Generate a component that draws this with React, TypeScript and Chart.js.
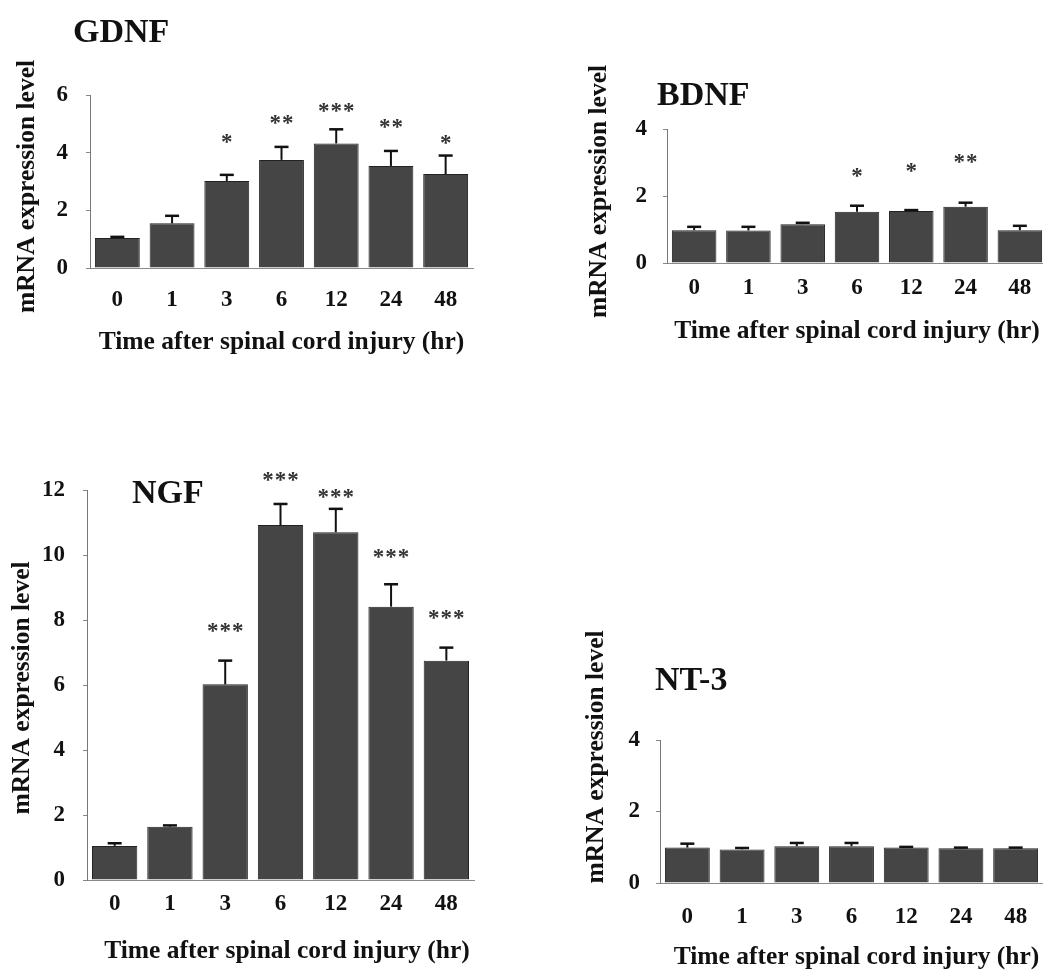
import React, { useEffect, useRef } from "react";
import { Chart, registerables } from "chart.js";

Chart.register(...registerables);

// ---------- data ----------
const hours = ["0", "1", "3", "6", "12", "24", "48"];

const gdnfMean = [1.04, 1.55, 3.02, 3.75, 4.32, 3.54, 3.26];
const gdnfErr = [0.04, 0.26, 0.21, 0.45, 0.49, 0.52, 0.64];
const gdnfStars = ["", "", "*", "**", "***", "**", "*"];
const gdnfStarLevel = [0, 0, 4.5, 5.14, 5.56, 5.02, 4.44];

const bdnfMean = [0.98, 0.97, 1.16, 1.53, 1.55, 1.68, 0.98];
const bdnfErr = [0.1, 0.11, 0.04, 0.18, 0.03, 0.12, 0.13];
const bdnfStars = ["", "", "", "*", "*", "**", ""];
const bdnfStarLevel = [0, 0, 0, 2.69, 2.84, 3.13, 0];

const ngfMean = [1.05, 1.64, 6.02, 10.92, 10.7, 8.41, 6.75];
const ngfErr = [0.08, 0.04, 0.73, 0.65, 0.72, 0.69, 0.4];
const ngfStars = ["", "", "***", "***", "***", "***", "***"];
const ngfStarLevel = [0, 0, 7.78, 12.43, 11.9, 10.06, 8.18];

const nt3Mean = [0.99, 0.94, 1.03, 1.03, 0.99, 0.97, 0.97];
const nt3Err = [0.11, 0.04, 0.09, 0.09, 0.02, 0.02, 0.02];
const nt3Stars = ["", "", "", "", "", "", ""];
const nt3StarLevel = [0, 0, 0, 0, 0, 0, 0];

const X_TITLE = "Time after spinal cord injury (hr)";
const Y_TITLE = "mRNA expression level";

// ---------- style ----------
const SERIF = '"Liberation Serif", "Times New Roman", serif';
const INK = "#111111";
const BAR = "#454545";

type Spec = {
  title: string;
  mean: number[];
  err: number[];
  stars: string[];
  starLevel: number[];
  yMax: number;
  left: number;
  top: number;
  width: number;
  height: number;
  padTop: number;
  padRight: number;
  yAxisW: number;
  xAxisH: number;
  yTickPad: number;
  xTickPad: number;
  titleX: number;
  titleBase: number;
  xTitleX: number;
  xTitleY: number;
  yTitleX: number;
  yTitleY: number;
};

const panels: Spec[] = [
  {
    title: "GDNF", mean: gdnfMean, err: gdnfErr, stars: gdnfStars, starLevel: gdnfStarLevel, yMax: 6,
    left: 0, top: 0, width: 500, height: 380, padTop: 95, padRight: 27, yAxisW: 90, xAxisH: 112,
    yTickPad: 18, xTickPad: 21, titleX: 73, titleBase: 42, xTitleX: 281.5, xTitleY: 342, yTitleX: 27, yTitleY: 186.5,
  },
  {
    title: "BDNF", mean: bdnfMean, err: bdnfErr, stars: bdnfStars, starLevel: bdnfStarLevel, yMax: 4,
    left: 540, top: 60, width: 520, height: 300, padTop: 69, padRight: 13, yAxisW: 127, xAxisH: 97,
    yTickPad: 16, xTickPad: 14, titleX: 657, titleBase: 105, xTitleX: 857, xTitleY: 331, yTitleX: 599, yTitleY: 191.5,
  },
  {
    title: "NGF", mean: ngfMean, err: ngfErr, stars: ngfStars, starLevel: ngfStarLevel, yMax: 12,
    left: 0, top: 420, width: 500, height: 551, padTop: 70, padRight: 26, yAxisW: 87, xAxisH: 91,
    yTickPad: 18, xTickPad: 12.5, titleX: 132, titleBase: 503, xTitleX: 287, xTitleY: 951, yTitleX: 22, yTitleY: 688,
  },
  {
    title: "NT-3", mean: nt3Mean, err: nt3Err, stars: nt3Stars, starLevel: nt3StarLevel, yMax: 4,
    left: 540, top: 620, width: 523, height: 351, padTop: 120, padRight: 20, yAxisW: 120, xAxisH: 88,
    yTickPad: 16, xTickPad: 23, titleX: 655, titleBase: 690, xTitleX: 856.5, xTitleY: 957, yTitleX: 596, yTitleY: 757,
  },
];

function BarPanel({ spec }: { spec: Spec }) {
  const ref = useRef<HTMLCanvasElement>(null);

  useEffect(() => {
    const canvas = ref.current;
    if (!canvas) return;
    const s = spec;

    const overlay = {
      id: "overlay",
      afterDatasetsDraw(chart: any) {
        const ctx = chart.ctx as CanvasRenderingContext2D;
        const y = chart.scales.y;
        const meta = chart.getDatasetMeta(0);
        ctx.save();
        ctx.strokeStyle = INK;
        meta.data.forEach((bar: any, i: number) => {
          const x = bar.x;
          const top = y.getPixelForValue(s.mean[i] + s.err[i]);
          ctx.lineWidth = 2;
          ctx.beginPath();
          ctx.moveTo(x, bar.y);
          ctx.lineTo(x, top);
          ctx.stroke();
          ctx.lineWidth = 2.5;
          ctx.beginPath();
          ctx.moveTo(x - 7, top);
          ctx.lineTo(x + 7, top);
          ctx.stroke();
          const st = s.stars[i];
          if (st) {
            ctx.font = `bold 23px ${SERIF}`;
            ctx.fillStyle = "#333333";
            ctx.textAlign = "center";
            ctx.textBaseline = "alphabetic";
            const m = ctx.measureText("*");
            const cy = y.getPixelForValue(s.starLevel[i]);
            const base = cy + (m.actualBoundingBoxAscent - m.actualBoundingBoxDescent) / 2;
            const n = st.length;
            for (let k = 0; k < n; k++) {
              ctx.fillText("*", x + (k - (n - 1) / 2) * 12.5, base);
            }
          }
        });

        // panel title
        ctx.fillStyle = INK;
        ctx.font = `bold 34px ${SERIF}`;
        ctx.textAlign = "left";
        ctx.textBaseline = "alphabetic";
        ctx.fillText(s.title, s.titleX - s.left, s.titleBase - s.top);

        // axis titles
        ctx.font = `bold 25.5px ${SERIF}`;
        ctx.textAlign = "center";
        ctx.textBaseline = "middle";
        ctx.fillText(X_TITLE, s.xTitleX - s.left, s.xTitleY - s.top);
        ctx.translate(s.yTitleX - s.left, s.yTitleY - s.top);
        ctx.rotate(-Math.PI / 2);
        ctx.fillText(Y_TITLE, 0, 0);
        ctx.restore();
      },
    };

    const tickFont = { family: SERIF, size: 23, weight: "bold" as const, lineHeight: 1 };

    const chart = new Chart(canvas, {
      type: "bar",
      data: {
        labels: hours,
        datasets: [
          {
            data: s.mean,
            backgroundColor: BAR,
            borderColor: "#222222",
            borderWidth: 1,
            barPercentage: 0.82,
            categoryPercentage: 1,
          },
        ],
      },
      options: {
        animation: false,
        responsive: false,
        devicePixelRatio: 1,
        layout: { padding: { top: s.padTop, right: s.padRight, left: 0, bottom: 0 } },
        plugins: { legend: { display: false }, tooltip: { enabled: false }, title: { display: false } },
        scales: {
          x: {
            type: "category",
            offset: true,
            grid: { display: false, drawTicks: false },
            border: { display: true, color: "#8a8a8a", width: 1 },
            ticks: { font: tickFont, color: INK, padding: s.xTickPad, maxRotation: 0, autoSkip: false },
            afterFit: (sc: any) => {
              sc.height = s.xAxisH;
            },
          },
          y: {
            min: 0,
            max: s.yMax,
            ticks: { stepSize: 2, font: tickFont, color: INK, padding: s.yTickPad },
            grid: { display: true, drawOnChartArea: false, drawTicks: true, tickLength: 4, color: "#888888" },
            border: { display: true, color: "#777777", width: 1, dash: [2, 2] },
            afterFit: (sc: any) => {
              sc.width = s.yAxisW;
            },
          },
        },
      } as any,
      plugins: [overlay],
    });

    return () => chart.destroy();
  }, [spec]);

  return (
    <div style={{ position: "absolute", left: spec.left, top: spec.top, width: spec.width, height: spec.height }}>
      <canvas
        ref={ref}
        width={spec.width}
        height={spec.height}
        style={{ display: "block", width: spec.width, height: spec.height }}
      />
    </div>
  );
}

export default function App() {
  return (
    <div
      style={{
        position: "fixed",
        left: 0,
        top: 0,
        width: 1043,
        height: 971,
        overflow: "hidden",
        background: "#ffffff",
      }}
    >
      {panels.map((p) => (
        <BarPanel key={p.title} spec={p} />
      ))}
    </div>
  );
}
